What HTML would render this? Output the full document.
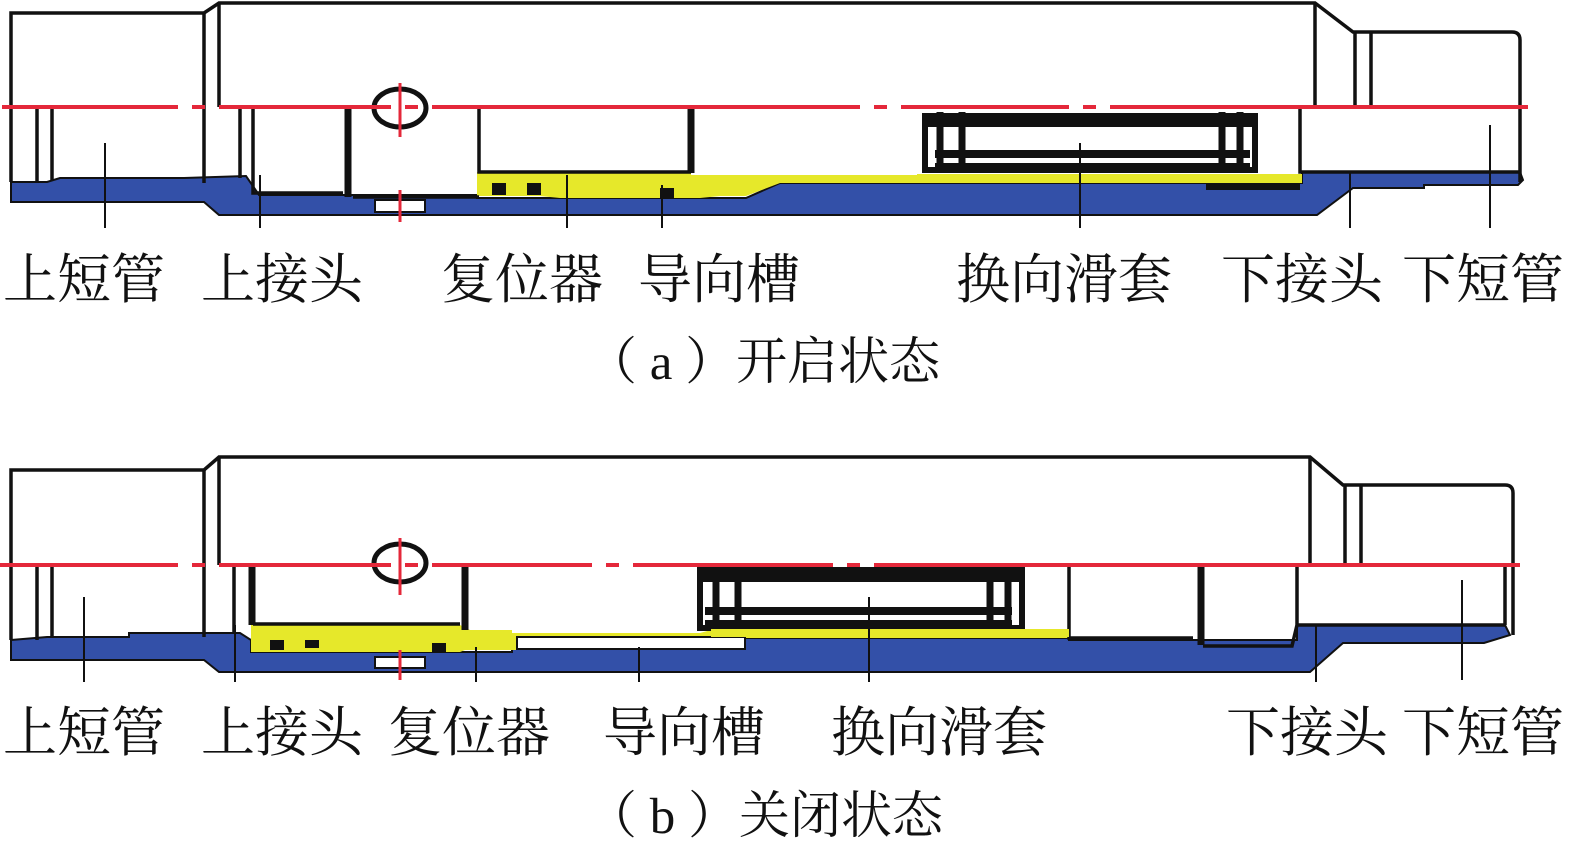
<!DOCTYPE html>
<html><head><meta charset="utf-8"><style>
html,body{margin:0;padding:0;background:#fff;}
svg{display:block}
text{font-family:"Liberation Serif","Noto Serif CJK SC",serif;fill:#111;}
</style></head><body>
<svg width="1575" height="853" viewBox="0 0 1575 853" xmlns="http://www.w3.org/2000/svg">
<g id="a">
<path d="M11,182 L47,182 L60,178 L184,178 L246,176 L259,195 L477,195 L477,198 L746,198 L780,183 L1302,183 L1302,172 L1520,172 L1523,180 L1518,185 L1424,185 L1424,188 L1353,188 L1317,215 L219,215 L204,202 L11,202 Z" fill="#3350a8" stroke="#111" stroke-width="2"/>
<path d="M477,172 L691,172 L691,175 L1302,175 L1302,183 L780,183 L746,196 L720,196 L700,198 L560,198 L540,196 L477,196 Z" fill="#e6e82a"/>
<rect x="492" y="183" width="14" height="12" fill="#111"/><rect x="527" y="183" width="14" height="12" fill="#111"/><rect x="660" y="188" width="14" height="10" fill="#111"/>
<rect x="1206" y="184" width="94" height="6" fill="#111"/>
<g fill="none" stroke="#111" stroke-width="3.5">
<path d="M11,182 L11,13 L204,13 L219,3 L1315,3 L1353,32 L1512,32 Q1520,32 1520,40 L1520,182"/>
<path d="M204,13 L204,183 M219,3 L219,107 M1315,3 L1315,107 M1355,32 L1355,107 M1371,32 L1371,107"/>
<path d="M37,107 L37,183 M52,107 L52,180 M240,107 L240,178 M253,107 L253,193 L343,193"/>
<path d="M353,197 L479,197 M479,107 L479,172 L691,172 M1300,107 L1300,172 L1520,172"/>
</g>
<path d="M348,107 L348,197 M691,107 L691,173" stroke="#111" stroke-width="7"/>
<g fill="none" stroke="#111">
<rect x="925" y="116" width="330" height="54" stroke-width="6"/>
<path d="M928,122 L1255,122" stroke-width="10"/>
<path d="M935,154 L1250,154 M935,167 L1250,167" stroke-width="8"/>
<path d="M940,112 L940,172 M962,112 L962,172 M1222,112 L1222,172 M1240,112 L1240,172" stroke-width="7"/>
</g>
<rect x="917" y="174" width="385" height="8" fill="#e6e82a"/>
<ellipse cx="400" cy="108" rx="26" ry="19" fill="none" stroke="#111" stroke-width="5"/>
<rect x="375" y="200" width="50" height="12" fill="#fff" stroke="#111" stroke-width="2"/>
<path d="M400,83 L400,137 M400,190 L400,222" stroke="#e4283a" stroke-width="3"/>
<path d="M2,107 L1528,107" stroke="#e4283a" stroke-width="4" stroke-dasharray="176,14,13,14,172,14,13,14,428,14,13,14,168,14,13,14,900"/>
<path d="M105,143 V228 M260,175 V228 M567,175 V228 M662,185 V228 M1080,143 V228 M1350,172 V228 M1490,125 V228" stroke="#111" stroke-width="2"/>
</g>
<g id="b">
<path d="M11,640 L47,637 L129,637 L129,633 L240,633 L251,640 L251,652 L512,652 L512,638 L1069,638 L1069,640 L1297,640 L1297,625 L1505,625 L1510,635 L1484,643 L1343,643 L1310,672 L219,672 L204,660 L11,660 Z" fill="#3350a8" stroke="#111" stroke-width="2"/>
<path d="M251,625 L460,625 L470,630 L512,630 L512,633 L700,633 L711,630 L1069,632 L1069,638 L745,638 L745,637 L517,637 L517,650 L465,650 L460,652 L251,652 Z" fill="#e6e82a"/>
<rect x="517" y="637" width="228" height="12" fill="#fff" stroke="#111" stroke-width="2"/>
<rect x="270" y="640" width="14" height="10" fill="#111"/><rect x="305" y="640" width="14" height="8" fill="#111"/><rect x="432" y="643" width="14" height="9" fill="#111"/>
<g fill="none" stroke="#111" stroke-width="3.5">
<path d="M11,640 L11,470 L204,470 L219,457 L1310,457 L1343,485 L1505,485 Q1513,485 1513,493 L1513,635"/>
<path d="M204,470 L204,637 M219,457 L219,565 M1310,457 L1310,565 M1345,485 L1345,565 M1361,485 L1361,565"/>
<path d="M37,565 L37,640 M52,565 L52,637 M234,565 L234,633 M253,624 L460,624"/>
<path d="M1069,565 L1069,638 L1193,638 M1203,646 L1292,646 L1297,625 L1297,565 M1297,625 L1505,625 M1505,565 L1505,625"/>
</g>
<path d="M252,565 L252,625 M465,565 L465,630 M1201,565 L1201,645" stroke="#111" stroke-width="7"/>
<g fill="none" stroke="#111">
<rect x="700" y="570" width="322" height="58" stroke-width="6"/>
<path d="M700,577 L1022,577" stroke-width="10"/>
<path d="M705,611 L1012,611 M705,624 L1012,624" stroke-width="8"/>
<path d="M716,567 L716,630 M738,567 L738,630 M990,567 L990,630 M1008,567 L1008,630" stroke-width="7"/>
</g>
<rect x="711" y="629" width="358" height="8" fill="#e6e82a"/>
<ellipse cx="400" cy="563" rx="26" ry="19" fill="none" stroke="#111" stroke-width="5"/>
<rect x="375" y="657" width="50" height="11" fill="#fff" stroke="#111" stroke-width="2"/>
<path d="M400,538 L400,595 M400,650 L400,680" stroke="#e4283a" stroke-width="3"/>
<path d="M0,565 L1520,565" stroke="#e4283a" stroke-width="4" stroke-dasharray="178,14,13,14,172,14,13,14,160,14,13,14,200,14,13,14,900"/>
<path d="M84,597 V682 M235,625 V682 M476,647 V682 M639,647 V682 M869,597 V682 M1316,625 V682 M1462,580 V680" stroke="#111" stroke-width="2"/>
</g>
<g font-size="54">
<text x="3" y="298">上短管</text><text x="201" y="298">上接头</text><text x="441" y="298">复位器</text><text x="638" y="298">导向槽</text><text x="956" y="298">换向滑套</text><text x="1221" y="298">下接头</text><text x="1402" y="298">下短管</text>
<text x="3" y="751">上短管</text><text x="201" y="751">上接头</text><text x="388" y="751">复位器</text><text x="603" y="751">导向槽</text><text x="831" y="751">换向滑套</text><text x="1226" y="751">下接头</text><text x="1402" y="751">下短管</text>
</g>
<g font-size="51">
<text x="586" y="379">（ a ）开启状态</text>
<text x="586" y="833">（ b ）关闭状态</text>
</g>
</svg>
</body></html>
